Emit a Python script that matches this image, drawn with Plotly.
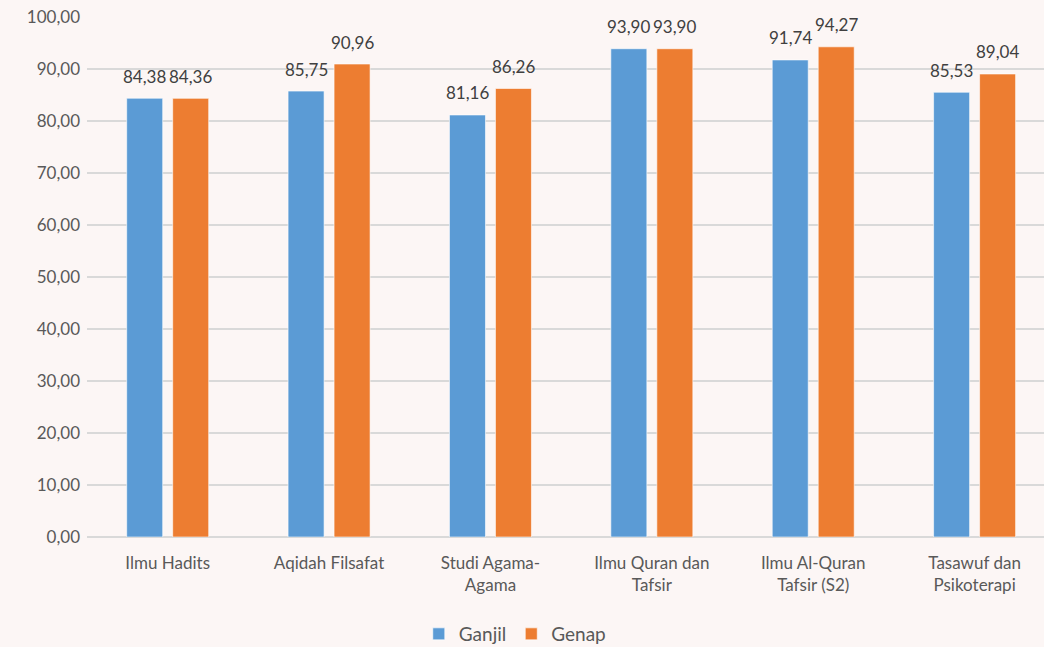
import plotly.graph_objects as go

categories = ["Ilmu Hadits", "Aqidah Filsafat", "Studi Agama-<br>Agama",
              "Ilmu Quran dan<br>Tafsir", "Ilmu Al-Quran<br>Tafsir (S2)",
              "Tasawuf dan<br>Psikoterapi"]
ganjil = [84.38, 85.75, 81.16, 93.90, 91.74, 85.53]
genap = [84.36, 90.96, 86.26, 93.90, 94.27, 89.04]
y_ticks = [0, 10, 20, 30, 40, 50, 60, 70, 80, 90, 100]

BLUE = "#5B9BD5"
ORANGE = "#ED7D31"
FONT = "Lato"

def fmt(v):
    return f"{v:.2f}".replace(".", ",")

fig = go.Figure()
fig.add_trace(go.Bar(name="Ganjil", x=categories, y=ganjil,
                     marker=dict(color=BLUE, line=dict(color="rgba(255,255,255,0.6)", width=1))))
fig.add_trace(go.Bar(name="Genap", x=categories, y=genap,
                     marker=dict(color=ORANGE, line=dict(color="rgba(255,255,255,0.6)", width=1))))

annotations = []
for c, v in zip(categories, ganjil):
    annotations.append(dict(x=c, y=v, xref="x", yref="y", text=fmt(v), showarrow=False,
                            xshift=-23, yshift=22, yanchor="middle",
                            font=dict(family=FONT, size=17, color="#404040")))
for c, v in zip(categories, genap):
    annotations.append(dict(x=c, y=v, xref="x", yref="y", text=fmt(v), showarrow=False,
                            xshift=23, yshift=22, yanchor="middle",
                            font=dict(family=FONT, size=17, color="#404040")))

fig.update_layout(
    width=1044, height=647,
    margin=dict(l=87, r=0, t=17, b=110, autoexpand=False),
    paper_bgcolor="#fcf6f5",
    plot_bgcolor="rgba(0,0,0,0)",
    separators=",.",
    barmode="group",
    bargap=0.43,
    bargroupgap=0.217,
    font=dict(family=FONT, color="#595959"),
    annotations=annotations,
    showlegend=True,
    legend=dict(orientation="h", x=0.447, xref="paper", xanchor="center",
                y=13 / 647, yref="container", yanchor="middle",
                font=dict(family=FONT, size=19, color="#595959"),
                itemwidth=30, traceorder="normal"),
    xaxis=dict(range=[-0.5, 5.43], showgrid=False, showline=False, zeroline=False,
               ticks="", ticklabelstandoff=14, automargin=False,
               tickfont=dict(family=FONT, size=17, color="#595959")),
    yaxis=dict(range=[0, 100], tickvals=y_ticks, tickformat=".2f",
               showgrid=True, gridcolor="#d9d9d9", gridwidth=1.5,
               zeroline=True, zerolinecolor="#d9d9d9", zerolinewidth=2,
               showline=False, ticks="", ticklabelstandoff=6, automargin=False,
               tickfont=dict(family=FONT, size=17, color="#595959")),
)

fig.write_html("out.html", config={"displayModeBar": False},
               post_script="document.body.style.margin='0';")
